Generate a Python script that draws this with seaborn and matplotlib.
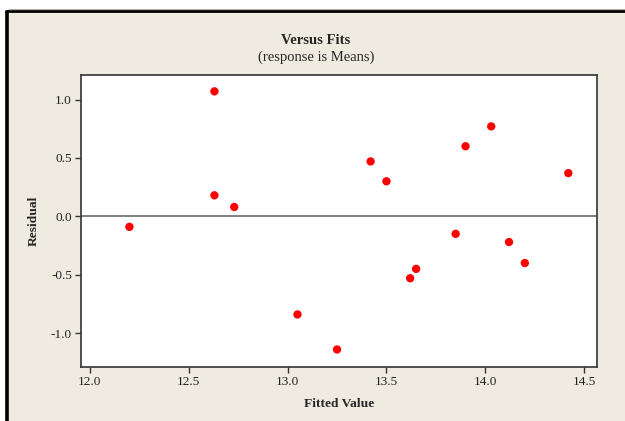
import seaborn as sns
import matplotlib.pyplot as plt
import matplotlib.patches as patches
import pandas as pd

# residuals vs fitted values
fitted = [12.20, 12.63, 12.63, 12.73, 13.05, 13.25, 13.42, 13.50,
          13.62, 13.65, 13.85, 13.90, 14.03, 14.12, 14.20, 14.42]
resid = [-0.09, 1.07, 0.18, 0.08, -0.84, -1.14, 0.47, 0.30,
         -0.53, -0.45, -0.15, 0.60, 0.77, -0.22, -0.40, 0.37]
xticks = [12.0, 12.5, 13.0, 13.5, 14.0, 14.5]
yticks = [1.0, 0.5, 0.0, -0.5, -1.0]

df = pd.DataFrame({'Fitted Value': fitted, 'Residual': resid})

sns.set_style('white')
plt.rcParams['font.family'] = ['Liberation Serif', 'DejaVu Serif']

fig = plt.figure(figsize=(6.25, 4.21), dpi=100)
fig.patch.set_facecolor('white')

# beige window background with black frame on left/top
W, H = 625, 421
fig.patches.append(patches.Rectangle((5 / W, 0), 1, 1 - 10 / H, transform=fig.transFigure,
                                     facecolor='#EFEBE1', edgecolor='none', zorder=-10))
fig.add_artist(plt.Line2D([6.5 / W, 6.5 / W], [0, 1 - 11 / H], color='black', lw=2.6,
                          transform=fig.transFigure, zorder=-5, solid_capstyle='butt'))
fig.add_artist(plt.Line2D([5 / W, 1], [1 - 11 / H, 1 - 11 / H], color='black', lw=2.0,
                          transform=fig.transFigure, zorder=-5, solid_capstyle='butt'))
fig.add_artist(plt.Line2D([8 / W, 1], [1 - 9 / H, 1 - 9 / H], color='#b0b0b0', lw=0.8,
                          transform=fig.transFigure, zorder=-5, solid_capstyle='butt'))

ax = fig.add_axes([81 / W, 1 - 367 / H, (597 - 81) / W, (367 - 75) / H])
ax.set_facecolor('white')

ax.axhline(0, color='#808080', lw=1.4, zorder=1)
sns.scatterplot(data=df, x='Fitted Value', y='Residual', color='#ff0000', s=36,
                edgecolor='none', ax=ax, zorder=3)

ax.set_xlim(11.955, 14.565)
ax.set_ylim(-1.29, 1.21)
ax.set_xticks(xticks)
ax.set_xticklabels([f'{v:.1f}' for v in xticks])
ax.set_yticks(yticks)
ax.set_yticklabels([f'{v:.1f}' for v in yticks])
ax.tick_params(axis='both', direction='out', length=4, width=1, color='#333333',
               labelsize=9.5, labelcolor='#222222', bottom=True, left=True, pad=2.5)

for side in ['left', 'bottom', 'top', 'right']:
    ax.spines[side].set_color('#333333')
    ax.spines[side].set_linewidth(1.2)

ax.set_xlabel('Fitted Value', fontsize=9.7, fontweight='bold', labelpad=7)
ax.set_ylabel('Residual', fontsize=9.7, fontweight='bold', labelpad=8)

fig.text(316 / W, 1 - 40 / H, 'Versus Fits', ha='center', va='center',
         fontsize=10.5, fontweight='bold')
fig.text(316 / W, 1 - 57 / H, '(response is Means)', ha='center', va='center',
         fontsize=10.5)

fig.savefig('out.png', dpi=100, facecolor=fig.get_facecolor())
